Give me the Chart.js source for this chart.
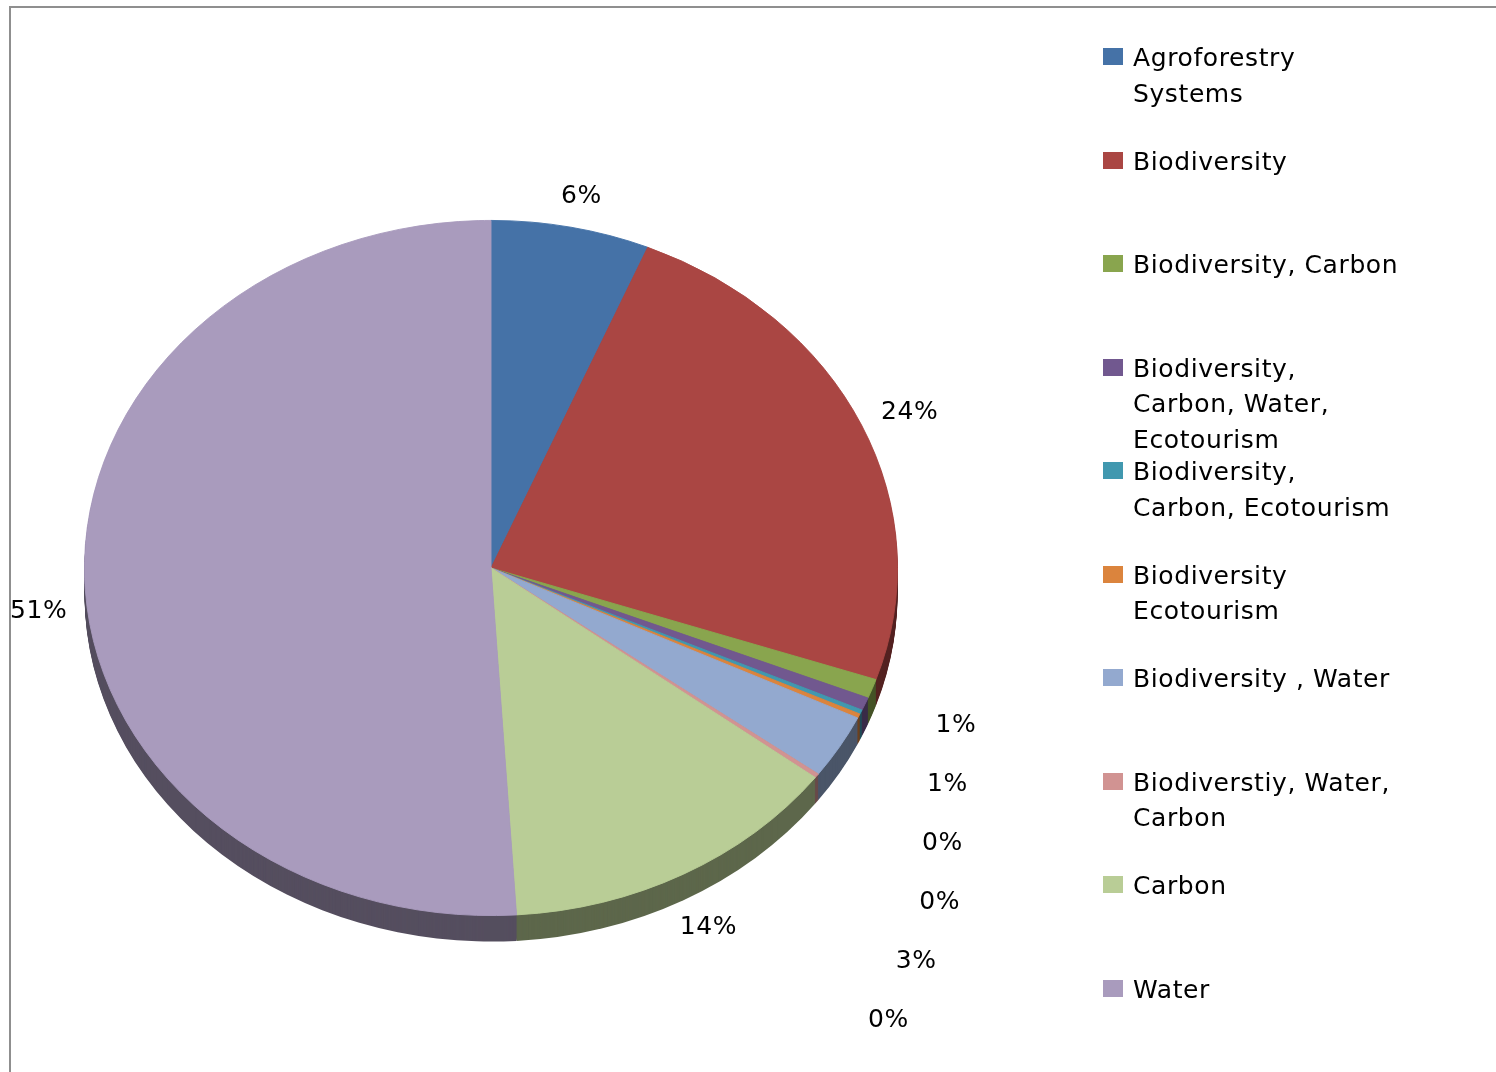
<!DOCTYPE html>
<html>
<head>
<meta charset="utf-8">
<script src="https://cdn.jsdelivr.net/npm/chart.js@4.4.1/dist/chart.umd.min.js"></script>
<style>
  html, body { margin: 0; padding: 0; background: #fff; }
  #wrap { position: relative; width: 1496px; height: 1072px; overflow: hidden; }
  #frame { position: absolute; left: 9px; top: 6px; width: 1600px; height: 1200px;
           border-left: 2px solid #8f8f8f; border-top: 2px solid #8f8f8f; }
  #chart { position: absolute; left: 0; top: 0; }
  #legend { position: absolute; left: 1103px; top: 0; font-family: "DejaVu Sans", sans-serif;
            font-size: 25px; letter-spacing: 0.6px; color: #000; }
  .item { position: absolute; left: 0; width: 380px; line-height: 35.5px; white-space: nowrap; }
  .box { position: absolute; left: 0; top: 8px; width: 20px; height: 17px; }
  .txt { position: absolute; left: 30px; top: 0; }
</style>
</head>
<body>
<div id="wrap">
  <div id="frame"></div>
  <canvas id="chart" width="1496" height="1072"></canvas>
  <div id="legend"></div>
</div>
<script>
// categories as they appear in the legend (one entry per line)
const categories = [
    ['Agroforestry', 'Systems'],
    ['Biodiversity'],
    ['Biodiversity, Carbon'],
    ['Biodiversity,', 'Carbon, Water,', 'Ecotourism'],
    ['Biodiversity,', 'Carbon, Ecotourism'],
    ['Biodiversity', 'Ecotourism'],
    ['Biodiversity , Water'],
    ['Biodiverstiy, Water,', 'Carbon'],
    ['Carbon'],
    ['Water']
];
// share of each category
const shares = [6.3, 23.9, 0.9, 0.6, 0.2, 0.2, 3.0, 0.2, 13.7, 51.0];
const colors = ['#4572A7', '#AA4643', '#89A54E', '#71588F', '#4198AF',
                '#DB843D', '#93A9CF', '#D19392', '#B9CD96', '#A99BBD'];

const SQUASH = 348 / 407;   // ellipse height / width
const DEPTH = 26;           // extrusion in px
const total = shares.reduce((a, b) => a + b, 0);

function shade(hex, f) {
    const n = parseInt(hex.slice(1), 16);
    const r = Math.round(((n >> 16) & 255) * f);
    const g = Math.round(((n >> 8) & 255) * f);
    const b = Math.round((n & 255) * f);
    return 'rgb(' + r + ',' + g + ',' + b + ')';
}

// squash the pie into an ellipse and draw its side wall below
let squashed = false;
const pie3d = {
    id: 'pie3d',
    beforeDatasetsDraw(chart) {
        const arcs = chart.getDatasetMeta(0).data;
        if (!arcs.length) return;
        const ctx = chart.ctx;
        const cy = arcs[0].y;
        ctx.save();
        squashed = true;
        ctx.translate(0, cy);
        ctx.scale(1, SQUASH);
        ctx.translate(0, -cy);
        for (let d = DEPTH; d >= 1; d--) {
            const off = d / SQUASH;
            arcs.forEach((arc, i) => {
                const p = arc.getProps(['x', 'y', 'startAngle', 'endAngle', 'outerRadius']);
                ctx.beginPath();
                ctx.moveTo(p.x, p.y + off);
                ctx.arc(p.x, p.y + off, p.outerRadius, p.startAngle, p.endAngle);
                ctx.closePath();
                ctx.fillStyle = shade(colors[i], 0.5);
                ctx.fill();
            });
        }
    },
    afterDatasetsDraw(chart) {
        if (squashed) { chart.ctx.restore(); squashed = false; }
    }
};

// percentage labels outside the slices
const pctLabels = {
    id: 'pctLabels',
    afterDraw(chart) {
        const arcs = chart.getDatasetMeta(0).data;
        const ctx = chart.ctx;
        ctx.save();
        ctx.font = '25px "DejaVu Sans"';
        ctx.letterSpacing = '0.6px';
        ctx.fillStyle = '#000';
        ctx.textAlign = 'center';
        ctx.textBaseline = 'middle';
        const placed = [];
        arcs.forEach((arc, i) => {
            const p = arc.getProps(['x', 'y', 'startAngle', 'endAngle', 'outerRadius']);
            const mid = (p.startAngle + p.endAngle) / 2;
            const small = shares[i] / total < 0.05;
            const la = p.outerRadius * (small ? 1.22 : 1.13);
            const lb = p.outerRadius * SQUASH * 1.09;
            const text = Math.round(shares[i] / total * 100) + '%';
            const w = ctx.measureText(text).width;
            let x = p.x + la * Math.cos(mid);
            x = Math.max(x, 10 + w / 2);
            let y = p.y + lb * Math.sin(mid) + (Math.sin(mid) > 0 ? DEPTH : 0);
            if (Math.abs(Math.cos(mid)) > 0.99) y += 6;
            let moved = true;
            while (moved) {
                moved = false;
                for (const q of placed) {
                    if (Math.abs(q.x - x) < 80 && Math.abs(q.y - y) < 59) {
                        y = q.y + 59;
                        moved = true;
                    }
                }
            }
            placed.push({x, y});
            ctx.fillText(text, x, y);
        });
        ctx.restore();
    }
};

new Chart(document.getElementById('chart'), {
    type: 'pie',
    data: {
        labels: categories,
        datasets: [{
            data: shares,
            backgroundColor: colors,
            borderColor: colors,
            borderWidth: 1,
            clip: false
        }]
    },
    options: {
        responsive: false,
        animation: false,
        layout: { padding: { left: 84, right: 598, top: 161, bottom: 97 } },
        plugins: {
            legend: { display: false },
            tooltip: { enabled: false }
        }
    },
    plugins: [pie3d, pctLabels]
});

// legend on the right
const legendEl = document.getElementById('legend');
categories.forEach((lines, i) => {
    const item = document.createElement('div');
    item.className = 'item';
    item.style.top = (40 + i * 103.55) + 'px';
    const box = document.createElement('div');
    box.className = 'box';
    box.style.background = colors[i];
    const txt = document.createElement('div');
    txt.className = 'txt';
    txt.innerHTML = lines.join('<br>');
    item.appendChild(box);
    item.appendChild(txt);
    legendEl.appendChild(item);
});
</script>
</body>
</html>
